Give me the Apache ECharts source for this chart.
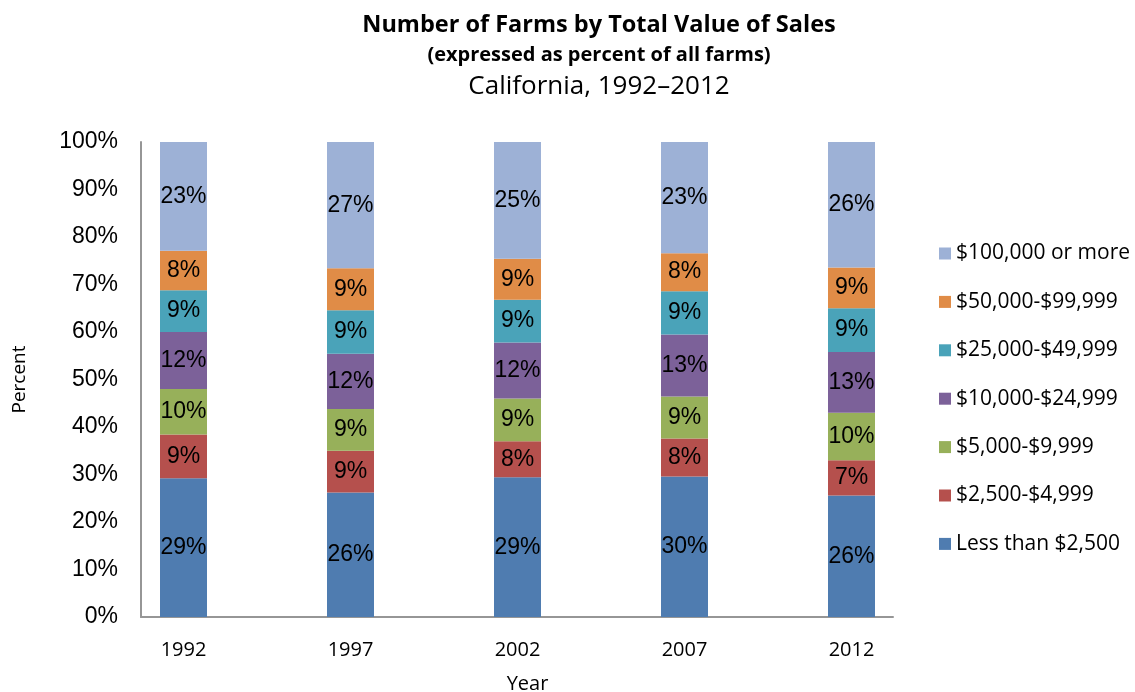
<!DOCTYPE html>
<html>
<head>
<meta charset="utf-8">
<script src="https://cdn.jsdelivr.net/npm/echarts@6/dist/echarts.min.js"></script>
<style>
  html, body { margin: 0; padding: 0; background: #ffffff; }
  #chart { width: 1135px; height: 692px; }
</style>
</head>
<body>
<div id="chart"></div>
<script>
// Census years shown on the horizontal axis
const years = ['1992', '1997', '2002', '2007', '2012'];

// Sales classes, bottom of each stack first
const salesClasses = [
  'Less than $2,500',
  '$2,500-$4,999',
  '$5,000-$9,999',
  '$10,000-$24,999',
  '$25,000-$49,999',
  '$50,000-$99,999',
  '$100,000 or more'
];

// Share of all farms (percent) in each sales class, per census year
const lessThan2500 = [29.2, 26.2, 29.4, 29.6, 25.6];
const from2500     = [9.2, 8.8, 7.6, 8.0, 7.4];
const from5000     = [9.6, 8.8, 9.0, 8.8, 10.0];
const from10000    = [12.0, 11.6, 11.8, 13.1, 12.8];
const from25000    = [8.8, 9.2, 9.0, 9.1, 9.2];
const from50000    = [8.3, 8.8, 8.6, 8.0, 8.6];
const over100000   = [22.9, 26.6, 24.6, 23.4, 26.4];

const classValues = [lessThan2500, from2500, from5000, from10000, from25000, from50000, over100000];
const classColors = ['#4f7cb0', '#b5504d', '#97b05a', '#7c6199', '#4aa3b9', '#e08c47', '#9db1d6'];

const textFont = '"Open Sans", Lato, sans-serif';
const numFont = '"Liberation Sans", Arial, sans-serif';
const frameColor = '#969696';

const series = salesClasses.map((name, k) => ({
  name: name,
  type: 'bar',
  stack: 'farms',
  xAxisIndex: 0,
  yAxisIndex: 0,
  barWidth: 47,
  itemStyle: { color: classColors[k] },
  label: {
    show: true,
    position: 'inside',
    color: '#000',
    fontFamily: numFont,
    fontSize: 23,
    formatter: p => Math.round(p.value) + '%'
  },
  data: classValues[k]
}));

const chart = echarts.init(document.getElementById('chart'), null, { renderer: 'canvas' });
chart.setOption({
  animation: false,
  backgroundColor: '#ffffff',
  title: [
    {
      text: 'Number of Farms by Total Value of Sales',
      left: 599, top: 13, padding: 0, textAlign: 'center',
      textStyle: { fontFamily: textFont, fontWeight: 'bold', fontSize: 23.5, color: '#000' }
    },
    {
      text: '(expressed as percent of all farms)',
      left: 599, top: 45, padding: 0, textAlign: 'center',
      textStyle: { fontFamily: textFont, fontWeight: 'bold', fontSize: 20, color: '#000' }
    },
    {
      text: 'California, 1992\u20132012',
      left: 599, top: 74, padding: 0, textAlign: 'center',
      textStyle: { fontFamily: textFont, fontWeight: 'normal', fontSize: 26, color: '#000' }
    }
  ],
  legend: {
    orient: 'vertical',
    left: 939,
    top: 243,
    padding: 0,
    itemWidth: 12,
    itemHeight: 12,
    itemGap: 27.4,
    icon: 'rect',
    data: salesClasses.slice().reverse(),
    textStyle: { fontFamily: textFont, fontSize: 21, color: '#000', lineHeight: 21 }
  },
  // grid 0 holds the bars (five category bands); grid 1 draws the axis frame and percent scale
  grid: [
    { left: 100, right: 200, top: 142, bottom: 75, containLabel: false, outerBoundsMode: 'none' },
    { left: 141, right: 242, top: 142, bottom: 75, containLabel: false, outerBoundsMode: 'none' }
  ],
  xAxis: [
    {
      gridIndex: 0,
      type: 'category',
      data: years,
      boundaryGap: true,
      name: 'Year',
      nameLocation: 'middle',
      nameGap: 57,
      nameTextStyle: { fontFamily: textFont, fontSize: 20, color: '#000', padding: [0, 0, 0, 20] },
      axisLine: { show: false },
      axisTick: { show: false },
      splitLine: { show: false },
      axisLabel: { fontFamily: textFont, fontSize: 20, color: '#000', margin: 23 }
    },
    {
      gridIndex: 1,
      type: 'value',
      min: 0,
      max: 1,
      axisLine: { show: true, lineStyle: { color: frameColor, width: 2 } },
      axisTick: { show: false },
      axisLabel: { show: false },
      splitLine: { show: false }
    }
  ],
  yAxis: [
    {
      gridIndex: 0,
      type: 'value',
      min: 0,
      max: 100,
      interval: 10,
      show: false,
      splitLine: { show: false }
    },
    {
      gridIndex: 1,
      type: 'value',
      min: 0,
      max: 100,
      interval: 10,
      name: 'Percent',
      nameLocation: 'middle',
      nameGap: 112,
      nameTextStyle: { fontFamily: textFont, fontSize: 19, color: '#000' },
      splitLine: { show: false },
      axisTick: { show: false },
      axisLine: { show: true, lineStyle: { color: frameColor, width: 2 } },
      axisLabel: {
        formatter: '{value}%',
        fontFamily: numFont, fontSize: 23, color: '#000', margin: 23
      }
    }
  ],
  series: series
});
</script>
</body>
</html>
